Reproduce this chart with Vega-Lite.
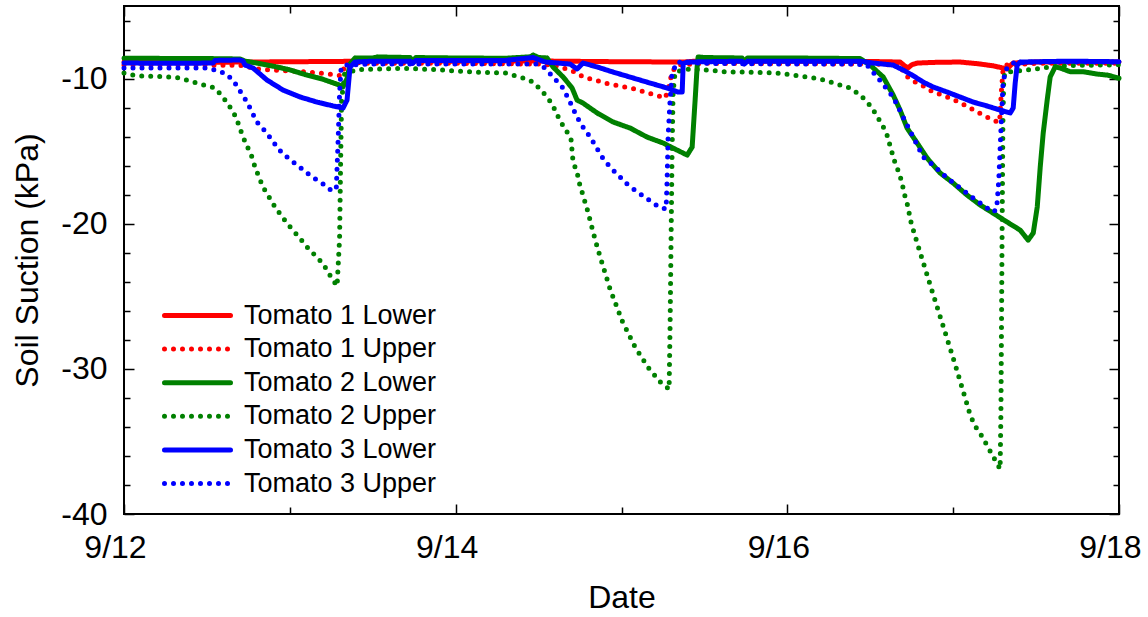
{
"$schema": "https://vega.github.io/schema/vega-lite/v6.json",
"width": 995, "height": 508,
"autosize": {"type": "none"},
"padding": {"left": 124, "top": 6, "right": 29, "bottom": 103},
"background": "white",
"config": {
  "font": "Liberation Sans",
  "view": {"stroke": "black", "strokeWidth": 2},
  "axis": {"domain": false, "grid": false, "tickColor": "black", "tickWidth": 1.5, "labelColor": "black", "titleColor": "black", "labelFontSize": 32, "titleFontSize": 32, "titleFontWeight": "normal", "labelFont": "Liberation Sans", "titleFont": "Liberation Sans"}
},
"datasets": {
"d": [
{"series":"Tomato 1 Lower","day":12.0,"kPa":-8.86},{"series":"Tomato 1 Lower","day":12.5,"kPa":-8.88},{"series":"Tomato 1 Lower","day":12.75,"kPa":-8.86},{"series":"Tomato 1 Lower","day":13.0,"kPa":-8.84},{"series":"Tomato 1 Lower","day":13.3,"kPa":-8.82},{"series":"Tomato 1 Lower","day":13.4,"kPa":-8.8},{"series":"Tomato 1 Lower","day":13.7,"kPa":-8.78},{"series":"Tomato 1 Lower","day":14.0,"kPa":-8.8},{"series":"Tomato 1 Lower","day":14.5,"kPa":-8.78},{"series":"Tomato 1 Lower","day":14.6,"kPa":-8.8},{"series":"Tomato 1 Lower","day":15.0,"kPa":-8.84},{"series":"Tomato 1 Lower","day":15.37,"kPa":-8.86},{"series":"Tomato 1 Lower","day":15.45,"kPa":-8.8},{"series":"Tomato 1 Lower","day":16.0,"kPa":-8.8},{"series":"Tomato 1 Lower","day":16.5,"kPa":-8.82},{"series":"Tomato 1 Lower","day":16.68,"kPa":-8.86},{"series":"Tomato 1 Lower","day":16.705,"kPa":-9.1},{"series":"Tomato 1 Lower","day":16.728,"kPa":-9.27},{"series":"Tomato 1 Lower","day":16.75,"kPa":-9.05},{"series":"Tomato 1 Lower","day":16.783,"kPa":-8.93},{"series":"Tomato 1 Lower","day":16.9,"kPa":-8.88},{"series":"Tomato 1 Lower","day":17.042,"kPa":-8.86},{"series":"Tomato 1 Lower","day":17.15,"kPa":-8.98},{"series":"Tomato 1 Lower","day":17.24,"kPa":-9.12},{"series":"Tomato 1 Lower","day":17.326,"kPa":-9.34},{"series":"Tomato 1 Lower","day":17.345,"kPa":-9.1},{"series":"Tomato 1 Lower","day":17.362,"kPa":-8.93},{"series":"Tomato 1 Lower","day":17.5,"kPa":-8.86},{"series":"Tomato 1 Lower","day":17.8,"kPa":-8.84},{"series":"Tomato 1 Lower","day":18.0,"kPa":-8.86},

{"series":"Tomato 1 Upper","day":12.0,"kPa":-9.07},{"series":"Tomato 1 Upper","day":12.5,"kPa":-9.07},{"series":"Tomato 1 Upper","day":12.72,"kPa":-9.1},{"series":"Tomato 1 Upper","day":12.8,"kPa":-9.34},{"series":"Tomato 1 Upper","day":12.95,"kPa":-9.45},{"series":"Tomato 1 Upper","day":13.1,"kPa":-9.55},{"series":"Tomato 1 Upper","day":13.25,"kPa":-9.7},{"series":"Tomato 1 Upper","day":13.31,"kPa":-9.8},{"series":"Tomato 1 Upper","day":13.333,"kPa":-9.1},{"series":"Tomato 1 Upper","day":13.363,"kPa":-8.9},{"series":"Tomato 1 Upper","day":13.5,"kPa":-8.95},{"series":"Tomato 1 Upper","day":14.0,"kPa":-8.95},{"series":"Tomato 1 Upper","day":14.5,"kPa":-9.0},{"series":"Tomato 1 Upper","day":14.6,"kPa":-9.1},{"series":"Tomato 1 Upper","day":14.648,"kPa":-9.27},{"series":"Tomato 1 Upper","day":14.72,"kPa":-9.55},{"series":"Tomato 1 Upper","day":14.77,"kPa":-9.89},{"series":"Tomato 1 Upper","day":14.84,"kPa":-10.1},{"series":"Tomato 1 Upper","day":14.9,"kPa":-10.31},{"series":"Tomato 1 Upper","day":14.96,"kPa":-10.44},{"series":"Tomato 1 Upper","day":15.02,"kPa":-10.58},{"series":"Tomato 1 Upper","day":15.08,"kPa":-10.72},{"series":"Tomato 1 Upper","day":15.14,"kPa":-10.93},{"series":"Tomato 1 Upper","day":15.2,"kPa":-11.13},{"series":"Tomato 1 Upper","day":15.263,"kPa":-11.34},{"series":"Tomato 1 Upper","day":15.281,"kPa":-10.79},{"series":"Tomato 1 Upper","day":15.305,"kPa":-9.55},{"series":"Tomato 1 Upper","day":15.335,"kPa":-9.07},{"series":"Tomato 1 Upper","day":15.5,"kPa":-8.95},{"series":"Tomato 1 Upper","day":16.0,"kPa":-8.98},{"series":"Tomato 1 Upper","day":16.5,"kPa":-9.0},{"series":"Tomato 1 Upper","day":16.68,"kPa":-9.07},{"series":"Tomato 1 Upper","day":16.71,"kPa":-9.76},{"series":"Tomato 1 Upper","day":16.76,"kPa":-10.17},{"series":"Tomato 1 Upper","day":16.82,"kPa":-10.51},{"series":"Tomato 1 Upper","day":16.88,"kPa":-10.93},{"series":"Tomato 1 Upper","day":16.95,"kPa":-11.2},{"series":"Tomato 1 Upper","day":17.02,"kPa":-11.55},{"series":"Tomato 1 Upper","day":17.08,"kPa":-11.89},{"series":"Tomato 1 Upper","day":17.145,"kPa":-12.3},{"series":"Tomato 1 Upper","day":17.19,"kPa":-12.58},{"series":"Tomato 1 Upper","day":17.253,"kPa":-12.93},{"series":"Tomato 1 Upper","day":17.28,"kPa":-13.0},{"series":"Tomato 1 Upper","day":17.29,"kPa":-11.0},{"series":"Tomato 1 Upper","day":17.3,"kPa":-9.5},{"series":"Tomato 1 Upper","day":17.314,"kPa":-9.07},{"series":"Tomato 1 Upper","day":17.5,"kPa":-8.95},{"series":"Tomato 1 Upper","day":18.0,"kPa":-8.95},

{"series":"Tomato 2 Lower","day":12.0,"kPa":-8.6},{"series":"Tomato 2 Lower","day":12.5,"kPa":-8.62},{"series":"Tomato 2 Lower","day":12.7,"kPa":-8.65},{"series":"Tomato 2 Lower","day":12.73,"kPa":-8.8},{"series":"Tomato 2 Lower","day":12.8,"kPa":-8.93},{"series":"Tomato 2 Lower","day":12.9,"kPa":-9.15},{"series":"Tomato 2 Lower","day":13.0,"kPa":-9.4},{"series":"Tomato 2 Lower","day":13.1,"kPa":-9.75},{"series":"Tomato 2 Lower","day":13.2,"kPa":-10.05},{"series":"Tomato 2 Lower","day":13.3,"kPa":-10.45},{"series":"Tomato 2 Lower","day":13.32,"kPa":-10.58},{"series":"Tomato 2 Lower","day":13.345,"kPa":-10.0},{"series":"Tomato 2 Lower","day":13.363,"kPa":-9.0},{"series":"Tomato 2 Lower","day":13.393,"kPa":-8.58},{"series":"Tomato 2 Lower","day":13.5,"kPa":-8.58},{"series":"Tomato 2 Lower","day":13.53,"kPa":-8.51},{"series":"Tomato 2 Lower","day":13.725,"kPa":-8.55},{"series":"Tomato 2 Lower","day":13.74,"kPa":-8.8},{"series":"Tomato 2 Lower","day":13.76,"kPa":-8.55},{"series":"Tomato 2 Lower","day":14.0,"kPa":-8.58},{"series":"Tomato 2 Lower","day":14.3,"kPa":-8.6},{"series":"Tomato 2 Lower","day":14.45,"kPa":-8.5},{"series":"Tomato 2 Lower","day":14.467,"kPa":-8.38},{"series":"Tomato 2 Lower","day":14.5,"kPa":-8.55},{"series":"Tomato 2 Lower","day":14.551,"kPa":-8.58},{"series":"Tomato 2 Lower","day":14.587,"kPa":-9.2},{"series":"Tomato 2 Lower","day":14.648,"kPa":-9.89},{"series":"Tomato 2 Lower","day":14.702,"kPa":-10.65},{"series":"Tomato 2 Lower","day":14.732,"kPa":-11.48},{"series":"Tomato 2 Lower","day":14.768,"kPa":-11.69},{"series":"Tomato 2 Lower","day":14.853,"kPa":-12.37},{"series":"Tomato 2 Lower","day":14.949,"kPa":-12.99},{"series":"Tomato 2 Lower","day":15.052,"kPa":-13.41},{"series":"Tomato 2 Lower","day":15.154,"kPa":-14.03},{"series":"Tomato 2 Lower","day":15.251,"kPa":-14.44},{"series":"Tomato 2 Lower","day":15.311,"kPa":-14.79},{"series":"Tomato 2 Lower","day":15.396,"kPa":-15.27},{"series":"Tomato 2 Lower","day":15.426,"kPa":-14.72},{"series":"Tomato 2 Lower","day":15.444,"kPa":-11.48},{"series":"Tomato 2 Lower","day":15.456,"kPa":-9.2},{"series":"Tomato 2 Lower","day":15.462,"kPa":-8.51},{"series":"Tomato 2 Lower","day":15.5,"kPa":-8.55},{"series":"Tomato 2 Lower","day":15.727,"kPa":-8.58},{"series":"Tomato 2 Lower","day":15.74,"kPa":-8.85},{"series":"Tomato 2 Lower","day":15.76,"kPa":-8.58},{"series":"Tomato 2 Lower","day":16.0,"kPa":-8.58},{"series":"Tomato 2 Lower","day":16.439,"kPa":-8.62},{"series":"Tomato 2 Lower","day":16.499,"kPa":-9.07},{"series":"Tomato 2 Lower","day":16.578,"kPa":-9.89},{"series":"Tomato 2 Lower","day":16.638,"kPa":-11.13},{"series":"Tomato 2 Lower","day":16.68,"kPa":-12.17},{"series":"Tomato 2 Lower","day":16.722,"kPa":-13.41},{"series":"Tomato 2 Lower","day":16.783,"kPa":-14.44},{"series":"Tomato 2 Lower","day":16.843,"kPa":-15.48},{"series":"Tomato 2 Lower","day":16.922,"kPa":-16.51},{"series":"Tomato 2 Lower","day":17.0,"kPa":-17.2},{"series":"Tomato 2 Lower","day":17.084,"kPa":-18.03},{"series":"Tomato 2 Lower","day":17.163,"kPa":-18.71},{"series":"Tomato 2 Lower","day":17.241,"kPa":-19.27},{"series":"Tomato 2 Lower","day":17.326,"kPa":-19.89},{"series":"Tomato 2 Lower","day":17.404,"kPa":-20.44},{"series":"Tomato 2 Lower","day":17.452,"kPa":-21.13},{"series":"Tomato 2 Lower","day":17.483,"kPa":-20.64},{"series":"Tomato 2 Lower","day":17.507,"kPa":-18.85},{"series":"Tomato 2 Lower","day":17.525,"kPa":-16.1},{"series":"Tomato 2 Lower","day":17.543,"kPa":-13.75},{"series":"Tomato 2 Lower","day":17.567,"kPa":-11.48},{"series":"Tomato 2 Lower","day":17.585,"kPa":-9.89},{"series":"Tomato 2 Lower","day":17.615,"kPa":-9.2},{"series":"Tomato 2 Lower","day":17.645,"kPa":-9.27},{"series":"Tomato 2 Lower","day":17.706,"kPa":-9.53},{"series":"Tomato 2 Lower","day":17.784,"kPa":-9.53},{"series":"Tomato 2 Lower","day":17.869,"kPa":-9.69},{"series":"Tomato 2 Lower","day":17.929,"kPa":-9.76},{"series":"Tomato 2 Lower","day":18.0,"kPa":-9.98},

{"series":"Tomato 2 Upper","day":12.0,"kPa":-9.62},{"series":"Tomato 2 Upper","day":12.05,"kPa":-9.75},{"series":"Tomato 2 Upper","day":12.1,"kPa":-9.82},{"series":"Tomato 2 Upper","day":12.2,"kPa":-9.85},{"series":"Tomato 2 Upper","day":12.26,"kPa":-9.89},{"series":"Tomato 2 Upper","day":12.338,"kPa":-9.96},{"series":"Tomato 2 Upper","day":12.42,"kPa":-10.24},{"series":"Tomato 2 Upper","day":12.48,"kPa":-10.44},{"series":"Tomato 2 Upper","day":12.549,"kPa":-10.65},{"series":"Tomato 2 Upper","day":12.597,"kPa":-11.27},{"series":"Tomato 2 Upper","day":12.639,"kPa":-11.96},{"series":"Tomato 2 Upper","day":12.675,"kPa":-12.65},{"series":"Tomato 2 Upper","day":12.718,"kPa":-14.03},{"series":"Tomato 2 Upper","day":12.772,"kPa":-15.41},{"series":"Tomato 2 Upper","day":12.79,"kPa":-16.1},{"series":"Tomato 2 Upper","day":12.838,"kPa":-17.47},{"series":"Tomato 2 Upper","day":12.911,"kPa":-18.85},{"series":"Tomato 2 Upper","day":12.959,"kPa":-19.61},{"series":"Tomato 2 Upper","day":13.007,"kPa":-20.3},{"series":"Tomato 2 Upper","day":13.055,"kPa":-20.92},{"series":"Tomato 2 Upper","day":13.104,"kPa":-21.61},{"series":"Tomato 2 Upper","day":13.2,"kPa":-22.75},{"series":"Tomato 2 Upper","day":13.255,"kPa":-23.8},{"series":"Tomato 2 Upper","day":13.285,"kPa":-24.3},{"series":"Tomato 2 Upper","day":13.3,"kPa":-21.0},{"series":"Tomato 2 Upper","day":13.306,"kPa":-16.0},{"series":"Tomato 2 Upper","day":13.312,"kPa":-11.5},{"series":"Tomato 2 Upper","day":13.33,"kPa":-9.7},{"series":"Tomato 2 Upper","day":13.4,"kPa":-9.4},{"series":"Tomato 2 Upper","day":13.5,"kPa":-9.35},{"series":"Tomato 2 Upper","day":13.7,"kPa":-9.3},{"series":"Tomato 2 Upper","day":13.9,"kPa":-9.4},{"series":"Tomato 2 Upper","day":14.1,"kPa":-9.55},{"series":"Tomato 2 Upper","day":14.3,"kPa":-9.62},{"series":"Tomato 2 Upper","day":14.407,"kPa":-9.96},{"series":"Tomato 2 Upper","day":14.467,"kPa":-10.24},{"series":"Tomato 2 Upper","day":14.521,"kPa":-10.86},{"series":"Tomato 2 Upper","day":14.569,"kPa":-11.55},{"series":"Tomato 2 Upper","day":14.6,"kPa":-12.17},{"series":"Tomato 2 Upper","day":14.63,"kPa":-12.93},{"series":"Tomato 2 Upper","day":14.666,"kPa":-13.55},{"series":"Tomato 2 Upper","day":14.696,"kPa":-14.24},{"series":"Tomato 2 Upper","day":14.708,"kPa":-15.75},{"series":"Tomato 2 Upper","day":14.732,"kPa":-16.44},{"series":"Tomato 2 Upper","day":14.744,"kPa":-17.13},{"series":"Tomato 2 Upper","day":14.78,"kPa":-18.51},{"series":"Tomato 2 Upper","day":14.798,"kPa":-19.2},{"series":"Tomato 2 Upper","day":14.829,"kPa":-20.58},{"series":"Tomato 2 Upper","day":14.859,"kPa":-21.82},{"series":"Tomato 2 Upper","day":14.931,"kPa":-24.5},{"series":"Tomato 2 Upper","day":15.004,"kPa":-26.7},{"series":"Tomato 2 Upper","day":15.082,"kPa":-28.5},{"series":"Tomato 2 Upper","day":15.16,"kPa":-29.9},{"series":"Tomato 2 Upper","day":15.233,"kPa":-30.9},{"series":"Tomato 2 Upper","day":15.287,"kPa":-31.4},{"series":"Tomato 2 Upper","day":15.293,"kPa":-27.0},{"series":"Tomato 2 Upper","day":15.299,"kPa":-21.0},{"series":"Tomato 2 Upper","day":15.305,"kPa":-15.0},{"series":"Tomato 2 Upper","day":15.311,"kPa":-11.0},{"series":"Tomato 2 Upper","day":15.323,"kPa":-9.55},{"series":"Tomato 2 Upper","day":15.4,"kPa":-9.35},{"series":"Tomato 2 Upper","day":15.522,"kPa":-9.41},{"series":"Tomato 2 Upper","day":15.643,"kPa":-9.55},{"series":"Tomato 2 Upper","day":15.758,"kPa":-9.55},{"series":"Tomato 2 Upper","day":15.938,"kPa":-9.62},{"series":"Tomato 2 Upper","day":16.077,"kPa":-9.82},{"series":"Tomato 2 Upper","day":16.198,"kPa":-10.03},{"series":"Tomato 2 Upper","day":16.318,"kPa":-10.44},{"series":"Tomato 2 Upper","day":16.379,"kPa":-10.65},{"series":"Tomato 2 Upper","day":16.439,"kPa":-11.13},{"series":"Tomato 2 Upper","day":16.487,"kPa":-11.68},{"series":"Tomato 2 Upper","day":16.53,"kPa":-12.37},{"series":"Tomato 2 Upper","day":16.596,"kPa":-13.68},{"series":"Tomato 2 Upper","day":16.632,"kPa":-15.13},{"series":"Tomato 2 Upper","day":16.65,"kPa":-15.82},{"series":"Tomato 2 Upper","day":16.674,"kPa":-16.51},{"series":"Tomato 2 Upper","day":16.692,"kPa":-17.2},{"series":"Tomato 2 Upper","day":16.704,"kPa":-17.89},{"series":"Tomato 2 Upper","day":16.722,"kPa":-18.58},{"series":"Tomato 2 Upper","day":16.747,"kPa":-19.96},{"series":"Tomato 2 Upper","day":16.765,"kPa":-20.64},{"series":"Tomato 2 Upper","day":16.783,"kPa":-21.33},{"series":"Tomato 2 Upper","day":16.861,"kPa":-24.2},{"series":"Tomato 2 Upper","day":16.952,"kPa":-27.5},{"series":"Tomato 2 Upper","day":17.012,"kPa":-29.7},{"series":"Tomato 2 Upper","day":17.084,"kPa":-32.45},{"series":"Tomato 2 Upper","day":17.103,"kPa":-33.2},{"series":"Tomato 2 Upper","day":17.133,"kPa":-33.95},{"series":"Tomato 2 Upper","day":17.175,"kPa":-34.67},{"series":"Tomato 2 Upper","day":17.211,"kPa":-35.42},{"series":"Tomato 2 Upper","day":17.247,"kPa":-36.16},{"series":"Tomato 2 Upper","day":17.283,"kPa":-36.89},{"series":"Tomato 2 Upper","day":17.288,"kPa":-33.0},{"series":"Tomato 2 Upper","day":17.292,"kPa":-26.0},{"series":"Tomato 2 Upper","day":17.296,"kPa":-19.0},{"series":"Tomato 2 Upper","day":17.3,"kPa":-13.0},{"series":"Tomato 2 Upper","day":17.305,"kPa":-10.0},{"series":"Tomato 2 Upper","day":17.314,"kPa":-9.55},{"series":"Tomato 2 Upper","day":17.332,"kPa":-9.55},{"series":"Tomato 2 Upper","day":17.446,"kPa":-9.41},{"series":"Tomato 2 Upper","day":17.585,"kPa":-9.2},{"series":"Tomato 2 Upper","day":17.7,"kPa":-9.1},{"series":"Tomato 2 Upper","day":18.0,"kPa":-9.05},

{"series":"Tomato 3 Lower","day":12.0,"kPa":-8.93},{"series":"Tomato 3 Lower","day":12.3,"kPa":-8.95},{"series":"Tomato 3 Lower","day":12.537,"kPa":-8.93},{"series":"Tomato 3 Lower","day":12.549,"kPa":-8.75},{"series":"Tomato 3 Lower","day":12.7,"kPa":-8.72},{"series":"Tomato 3 Lower","day":12.718,"kPa":-8.8},{"series":"Tomato 3 Lower","day":12.73,"kPa":-9.07},{"series":"Tomato 3 Lower","day":12.778,"kPa":-9.27},{"series":"Tomato 3 Lower","day":12.862,"kPa":-10.1},{"series":"Tomato 3 Lower","day":12.959,"kPa":-10.79},{"series":"Tomato 3 Lower","day":13.062,"kPa":-11.27},{"series":"Tomato 3 Lower","day":13.164,"kPa":-11.62},{"series":"Tomato 3 Lower","day":13.261,"kPa":-11.89},{"series":"Tomato 3 Lower","day":13.321,"kPa":-12.03},{"series":"Tomato 3 Lower","day":13.345,"kPa":-11.48},{"series":"Tomato 3 Lower","day":13.363,"kPa":-9.2},{"series":"Tomato 3 Lower","day":13.393,"kPa":-8.86},{"series":"Tomato 3 Lower","day":13.5,"kPa":-8.8},{"series":"Tomato 3 Lower","day":13.725,"kPa":-8.8},{"series":"Tomato 3 Lower","day":13.74,"kPa":-8.95},{"series":"Tomato 3 Lower","day":13.76,"kPa":-8.75},{"series":"Tomato 3 Lower","day":14.0,"kPa":-8.75},{"series":"Tomato 3 Lower","day":14.3,"kPa":-8.75},{"series":"Tomato 3 Lower","day":14.467,"kPa":-8.55},{"series":"Tomato 3 Lower","day":14.539,"kPa":-8.86},{"series":"Tomato 3 Lower","day":14.69,"kPa":-9.0},{"series":"Tomato 3 Lower","day":14.732,"kPa":-9.34},{"series":"Tomato 3 Lower","day":14.768,"kPa":-8.93},{"series":"Tomato 3 Lower","day":14.853,"kPa":-9.2},{"series":"Tomato 3 Lower","day":14.949,"kPa":-9.55},{"series":"Tomato 3 Lower","day":15.07,"kPa":-9.96},{"series":"Tomato 3 Lower","day":15.173,"kPa":-10.31},{"series":"Tomato 3 Lower","day":15.275,"kPa":-10.65},{"series":"Tomato 3 Lower","day":15.341,"kPa":-10.93},{"series":"Tomato 3 Lower","day":15.366,"kPa":-10.93},{"series":"Tomato 3 Lower","day":15.372,"kPa":-8.95},{"series":"Tomato 3 Lower","day":15.4,"kPa":-8.86},{"series":"Tomato 3 Lower","day":15.727,"kPa":-8.8},{"series":"Tomato 3 Lower","day":15.74,"kPa":-9.0},{"series":"Tomato 3 Lower","day":15.76,"kPa":-8.8},{"series":"Tomato 3 Lower","day":16.0,"kPa":-8.8},{"series":"Tomato 3 Lower","day":16.439,"kPa":-8.8},{"series":"Tomato 3 Lower","day":16.517,"kPa":-8.93},{"series":"Tomato 3 Lower","day":16.638,"kPa":-9.07},{"series":"Tomato 3 Lower","day":16.698,"kPa":-9.41},{"series":"Tomato 3 Lower","day":16.753,"kPa":-9.76},{"series":"Tomato 3 Lower","day":16.819,"kPa":-10.24},{"series":"Tomato 3 Lower","day":16.879,"kPa":-10.58},{"series":"Tomato 3 Lower","day":16.964,"kPa":-10.93},{"series":"Tomato 3 Lower","day":17.042,"kPa":-11.27},{"series":"Tomato 3 Lower","day":17.121,"kPa":-11.62},{"series":"Tomato 3 Lower","day":17.205,"kPa":-11.89},{"series":"Tomato 3 Lower","day":17.283,"kPa":-12.17},{"series":"Tomato 3 Lower","day":17.344,"kPa":-12.37},{"series":"Tomato 3 Lower","day":17.362,"kPa":-12.03},{"series":"Tomato 3 Lower","day":17.374,"kPa":-10.31},{"series":"Tomato 3 Lower","day":17.386,"kPa":-9.07},{"series":"Tomato 3 Lower","day":17.404,"kPa":-8.86},{"series":"Tomato 3 Lower","day":17.7,"kPa":-8.8},{"series":"Tomato 3 Lower","day":18.0,"kPa":-8.84},

{"series":"Tomato 3 Upper","day":12.0,"kPa":-9.27},{"series":"Tomato 3 Upper","day":12.3,"kPa":-9.27},{"series":"Tomato 3 Upper","day":12.489,"kPa":-9.27},{"series":"Tomato 3 Upper","day":12.549,"kPa":-9.41},{"series":"Tomato 3 Upper","day":12.621,"kPa":-9.69},{"series":"Tomato 3 Upper","day":12.669,"kPa":-10.31},{"series":"Tomato 3 Upper","day":12.742,"kPa":-11.62},{"series":"Tomato 3 Upper","day":12.802,"kPa":-13.0},{"series":"Tomato 3 Upper","day":12.856,"kPa":-13.68},{"series":"Tomato 3 Upper","day":12.905,"kPa":-14.44},{"series":"Tomato 3 Upper","day":12.953,"kPa":-15.13},{"series":"Tomato 3 Upper","day":13.013,"kPa":-15.68},{"series":"Tomato 3 Upper","day":13.074,"kPa":-16.23},{"series":"Tomato 3 Upper","day":13.134,"kPa":-16.78},{"series":"Tomato 3 Upper","day":13.194,"kPa":-17.2},{"series":"Tomato 3 Upper","day":13.255,"kPa":-17.75},{"series":"Tomato 3 Upper","day":13.28,"kPa":-17.6},{"series":"Tomato 3 Upper","day":13.292,"kPa":-14.0},{"series":"Tomato 3 Upper","day":13.3,"kPa":-11.0},{"series":"Tomato 3 Upper","day":13.309,"kPa":-9.3},{"series":"Tomato 3 Upper","day":13.33,"kPa":-9.07},{"series":"Tomato 3 Upper","day":13.5,"kPa":-9.0},{"series":"Tomato 3 Upper","day":14.0,"kPa":-9.0},{"series":"Tomato 3 Upper","day":14.491,"kPa":-9.0},{"series":"Tomato 3 Upper","day":14.539,"kPa":-9.27},{"series":"Tomato 3 Upper","day":14.587,"kPa":-9.89},{"series":"Tomato 3 Upper","day":14.642,"kPa":-10.58},{"series":"Tomato 3 Upper","day":14.678,"kPa":-11.34},{"series":"Tomato 3 Upper","day":14.732,"kPa":-12.65},{"series":"Tomato 3 Upper","day":14.768,"kPa":-13.34},{"series":"Tomato 3 Upper","day":14.811,"kPa":-14.03},{"series":"Tomato 3 Upper","day":14.847,"kPa":-14.72},{"series":"Tomato 3 Upper","day":14.883,"kPa":-15.41},{"series":"Tomato 3 Upper","day":14.931,"kPa":-16.1},{"series":"Tomato 3 Upper","day":14.986,"kPa":-16.72},{"series":"Tomato 3 Upper","day":15.04,"kPa":-17.34},{"series":"Tomato 3 Upper","day":15.106,"kPa":-17.89},{"series":"Tomato 3 Upper","day":15.166,"kPa":-18.37},{"series":"Tomato 3 Upper","day":15.227,"kPa":-18.85},{"series":"Tomato 3 Upper","day":15.269,"kPa":-18.99},{"series":"Tomato 3 Upper","day":15.275,"kPa":-17.0},{"series":"Tomato 3 Upper","day":15.281,"kPa":-14.0},{"series":"Tomato 3 Upper","day":15.293,"kPa":-11.48},{"series":"Tomato 3 Upper","day":15.305,"kPa":-9.55},{"series":"Tomato 3 Upper","day":15.323,"kPa":-9.2},{"series":"Tomato 3 Upper","day":15.335,"kPa":-8.86},{"series":"Tomato 3 Upper","day":15.5,"kPa":-8.95},{"series":"Tomato 3 Upper","day":16.0,"kPa":-9.0},{"series":"Tomato 3 Upper","day":16.4,"kPa":-9.0},{"series":"Tomato 3 Upper","day":16.48,"kPa":-9.07},{"series":"Tomato 3 Upper","day":16.542,"kPa":-9.89},{"series":"Tomato 3 Upper","day":16.638,"kPa":-11.27},{"series":"Tomato 3 Upper","day":16.698,"kPa":-12.65},{"series":"Tomato 3 Upper","day":16.759,"kPa":-14.03},{"series":"Tomato 3 Upper","day":16.819,"kPa":-15.41},{"series":"Tomato 3 Upper","day":16.879,"kPa":-15.96},{"series":"Tomato 3 Upper","day":16.964,"kPa":-16.85},{"series":"Tomato 3 Upper","day":17.042,"kPa":-17.54},{"series":"Tomato 3 Upper","day":17.121,"kPa":-18.23},{"series":"Tomato 3 Upper","day":17.205,"kPa":-18.92},{"series":"Tomato 3 Upper","day":17.241,"kPa":-19.2},{"series":"Tomato 3 Upper","day":17.262,"kPa":-19.0},{"series":"Tomato 3 Upper","day":17.275,"kPa":-17.0},{"series":"Tomato 3 Upper","day":17.29,"kPa":-13.0},{"series":"Tomato 3 Upper","day":17.3,"kPa":-10.5},{"series":"Tomato 3 Upper","day":17.314,"kPa":-9.4},{"series":"Tomato 3 Upper","day":17.362,"kPa":-8.93},{"series":"Tomato 3 Upper","day":17.5,"kPa":-8.86},{"series":"Tomato 3 Upper","day":18.0,"kPa":-8.86}
]
},
"data": {"name": "d"},
"layer": [
{
  "mark": {"type": "line", "strokeWidth": 5, "strokeCap": "round", "strokeJoin": "round"},
  "encoding": {
    "x": {"field": "day", "type": "quantitative", "scale": {"domain": [12, 18], "nice": false, "zero": false},
      "axis": {"orient": "bottom", "values": [12, 13, 14, 15, 16, 17, 18], "labelExpr": "datum.value % 2 == 0 ? '9/' + datum.value : ''", "tickSize": {"condition": {"test": "datum.value % 2 == 0", "value": -10}, "value": -7}, "labelPadding": 28, "labelOffset": -9, "labelFlush": false, "labelOverlap": false, "title": "Date", "titlePadding": 16}},
    "y": {"field": "kPa", "type": "quantitative", "scale": {"domain": [-40, -5], "nice": false, "zero": false},
      "axis": {"orient": "left", "values": [-40, -38, -36, -34, -32, -30, -28, -26, -24, -22, -20, -18, -16, -14, -12, -10, -8, -6], "labelExpr": "datum.value % 10 == 0 ? '' + datum.value : ''", "tickSize": {"condition": {"test": "datum.value % 10 == 0", "value": -10}, "value": -6}, "labelPadding": 27, "labelOverlap": false, "labelFlush": false, "title": "Soil Suction (kPa)", "titlePadding": 16}},
    "color": {"field": "series", "type": "nominal",
      "scale": {"domain": ["Tomato 1 Lower", "Tomato 1 Upper", "Tomato 2 Lower", "Tomato 2 Upper", "Tomato 3 Lower", "Tomato 3 Upper"], "range": ["#ff0000", "#ff0000", "#008000", "#008000", "#0000ff", "#0000ff"]},
      "legend": {"title": null, "orient": "none", "legendX": 60, "legendY": 296, "symbolType": "M-3,0H3", "symbolSize": 484, "symbolStrokeWidth": 5, "labelFontSize": 27, "labelLimit": 400, "labelColor": "black", "rowPadding": 5.6, "labelOffset": 33, "padding": 0, "encode": {"symbols": {"update": {"strokeCap": {"value": "round"}}}}}},
    "strokeDash": {"field": "series", "type": "nominal",
      "scale": {"domain": ["Tomato 1 Lower", "Tomato 1 Upper", "Tomato 2 Lower", "Tomato 2 Upper", "Tomato 3 Lower", "Tomato 3 Upper"], "range": [[1, 0], [0, 9], [1, 0], [0, 9], [1, 0], [0, 9]]},
      "legend": {"title": null, "orient": "none", "legendX": 60, "legendY": 296, "symbolType": "M-3,0H3", "symbolSize": 484, "symbolStrokeWidth": 5, "labelFontSize": 27, "labelLimit": 400, "labelColor": "black", "rowPadding": 5.6, "labelOffset": 33, "padding": 0, "encode": {"symbols": {"update": {"strokeCap": {"value": "round"}}}}}}
  }
},
{
  "mark": {"type": "point", "opacity": 0},
  "encoding": {
    "x": {"field": "day", "type": "quantitative", "scale": {"domain": [12, 18], "nice": false, "zero": false},
      "axis": {"orient": "top", "values": [12, 13, 14, 15, 16, 17, 18], "labels": false, "title": null, "tickSize": {"condition": {"test": "datum.value % 2 == 0", "value": -10}, "value": -7}}},
    "y": {"field": "kPa", "type": "quantitative", "scale": {"domain": [-40, -5], "nice": false, "zero": false},
      "axis": {"orient": "right", "values": [-40, -38, -36, -34, -32, -30, -28, -26, -24, -22, -20, -18, -16, -14, -12, -10, -8, -6], "labels": false, "title": null, "tickSize": {"condition": {"test": "datum.value % 10 == 0", "value": -10}, "value": -6}}}
  }
}
],
"resolve": {"axis": {"x": "independent", "y": "independent"}}
}
